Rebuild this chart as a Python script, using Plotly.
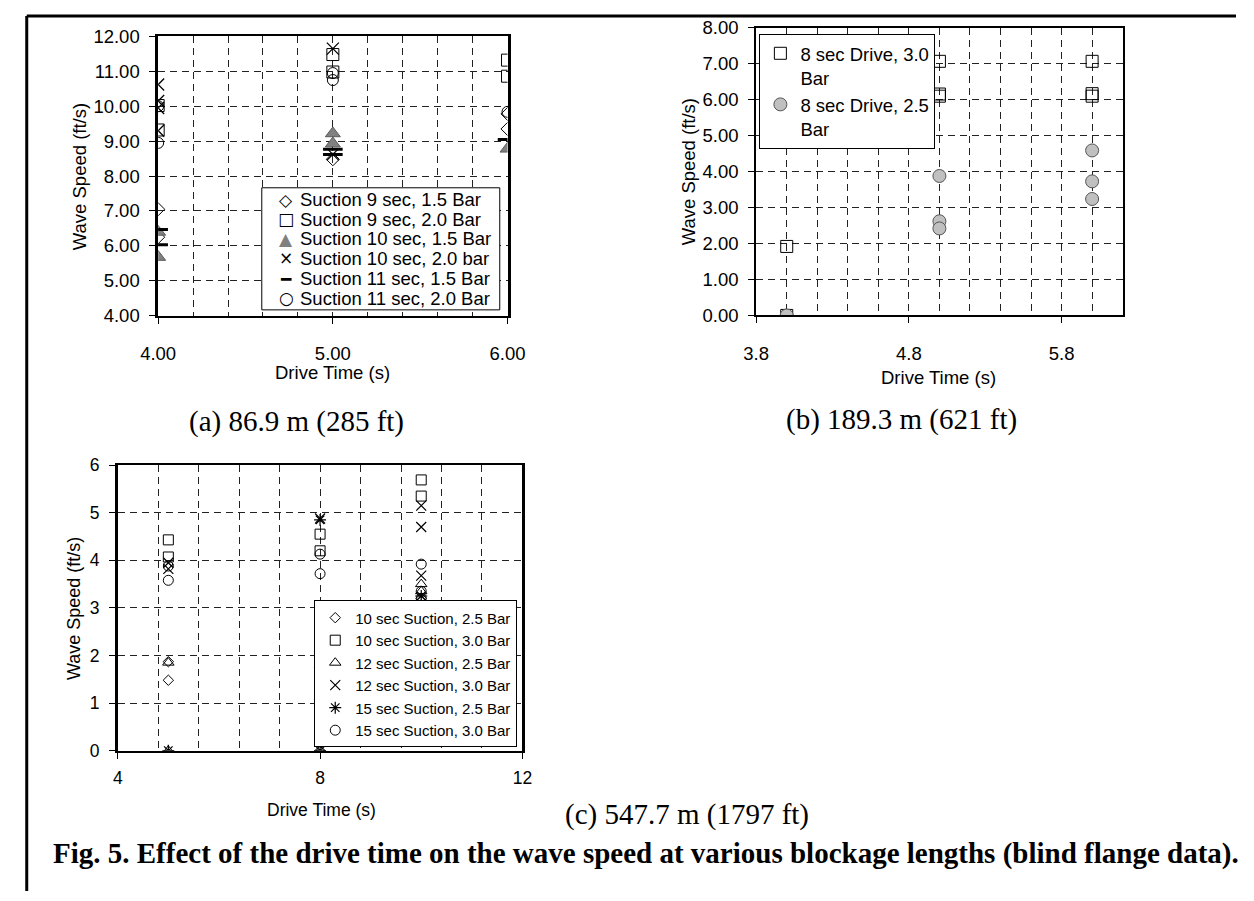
import plotly.graph_objects as go

W, H = 1254, 901

# ---------------- Panel (a): 86.9 m ----------------
a_names = ["Suction 9 sec, 1.5 Bar", "Suction 9 sec, 2.0 Bar", "Suction 10 sec, 1.5 Bar",
           "Suction 10 sec, 2.0 bar", "Suction 11 sec, 1.5 Bar", "Suction 11 sec, 2.0 Bar"]
a_x_s1 = [4, 4, 5, 6, 6]
a_y_s1 = [7.05, 6.25, 8.48, 9.35, 9.78]
a_x_s2 = [4, 4, 5, 5, 6, 6]
a_y_s2 = [10.02, 9.32, 11.48, 10.98, 11.32, 10.86]
a_x_s3 = [4, 4, 5, 5, 6]
a_y_s3 = [6.40, 5.68, 9.22, 8.93, 8.78]
a_x_s4 = [4, 4, 4, 4, 5, 5]
a_y_s4 = [10.62, 10.15, 9.95, 9.30, 11.65, 8.62]
a_x_s5 = [4, 4, 5, 5, 6]
a_y_s5 = [6.47, 6.03, 8.77, 8.62, 9.05]
a_x_s6 = [4, 4, 5, 5, 6]
a_y_s6 = [8.95, 10.00, 10.95, 10.75, 9.84]

# ---------------- Panel (b): 189.3 m ----------------
b_names = ["8 sec Drive, 3.0<br>Bar", "8 sec Drive, 2.5<br>Bar"]
b_x_s1 = [4, 4, 5, 5, 5, 6, 6, 6]
b_y_s1 = [1.92, 0.0, 7.07, 6.16, 6.10, 7.07, 6.17, 6.10]
b_x_s2 = [4, 5, 5, 5, 6, 6, 6]
b_y_s2 = [0.0, 3.88, 2.62, 2.42, 4.59, 3.73, 3.24]

# ---------------- Panel (c): 547.7 m ----------------
c_names = ["10 sec Suction, 2.5 Bar", "10 sec Suction, 3.0 Bar", "12 sec Suction, 2.5 Bar",
           "12 sec Suction, 3.0 Bar", "15 sec Suction, 2.5 Bar", "15 sec Suction, 3.0 Bar"]
c_x_s1 = [5, 5, 8, 8, 10, 10]
c_y_s1 = [1.87, 1.48, 2.00, 0.0, 3.20, 3.15]
c_x_s2 = [5, 5, 8, 8, 10, 10]
c_y_s2 = [4.43, 4.07, 4.55, 4.20, 5.69, 5.35]
c_x_s3 = [5, 5, 8, 8, 10, 10]
c_y_s3 = [1.85, 0.0, 1.80, 0.0, 3.50, 3.35]
c_x_s4 = [5, 5, 8, 10, 10, 10, 10]
c_y_s4 = [3.95, 3.82, 4.88, 5.15, 4.70, 3.68, 3.00]
c_x_s5 = [5, 8, 8, 10, 10]
c_y_s5 = [0.0, 0.0, 4.85, 3.25, 3.05]
c_x_s6 = [5, 5, 8, 8, 10, 10, 10]
c_y_s6 = [3.58, 3.88, 4.13, 3.72, 3.92, 3.35, 3.20]

captions = ["(a) 86.9 m (285 ft)", "(b) 189.3 m (621 ft)", "(c) 547.7 m (1797 ft)"]
fig_caption = "Fig. 5. Effect of the drive time on the wave speed at various blockage lengths (blind flange data)."
x_title = "Drive Time (s)"
y_title = "Wave Speed (ft/s)"

SANS = "Liberation Sans, Arial, sans-serif"
SERIF = "Liberation Serif, Times New Roman, serif"
DASH = "7px,5px"


def fx(px):
    return px / W


def fy(py):
    return 1 - py / H


fig = go.Figure()


def mk(symbol, size, color="black", lw=1, lc="black"):
    return dict(symbol=symbol, size=size, color=color, line=dict(width=lw, color=lc))


# Panel (a) traces
a_series = [
    (a_x_s1, a_y_s1, mk("diamond-open", 10)),
    (a_x_s2, a_y_s2, mk("square-open", 12)),
    (a_x_s3, a_y_s3, mk("triangle-up", 13, color="#808080", lc="#5a5a5a")),
    (a_x_s4, a_y_s4, mk("x-thin-open", 12, lw=1.3)),
    (a_x_s5, a_y_s5, mk("line-ew-open", 14, lw=3)),
    (a_x_s6, a_y_s6, mk("circle-open", 11)),
]
for (xs, ys, m), nm in zip(a_series, a_names):
    fig.add_trace(go.Scatter(x=xs, y=ys, mode="markers", marker=m, name=nm,
                             xaxis="x", yaxis="y", showlegend=False))

# Panel (b) traces
fig.add_trace(go.Scatter(x=b_x_s1, y=b_y_s1, mode="markers", name=b_names[0],
                         marker=mk("square-open", 12), xaxis="x2", yaxis="y2", legend="legend"))
fig.add_trace(go.Scatter(x=b_x_s2, y=b_y_s2, mode="markers", name=b_names[1],
                         marker=mk("circle", 13, color="#c0c0c0", lc="#555555"),
                         xaxis="x2", yaxis="y2", legend="legend"))

# Panel (c) traces
c_series = [
    (c_x_s1, c_y_s1, mk("diamond-open", 8)),
    (c_x_s2, c_y_s2, mk("square-open", 10)),
    (c_x_s3, c_y_s3, mk("triangle-up-open", 10)),
    (c_x_s4, c_y_s4, mk("x-thin-open", 10, lw=1.2)),
    (c_x_s5, c_y_s5, mk("asterisk-open", 10, lw=1.2)),
    (c_x_s6, c_y_s6, mk("circle-open", 10)),
]
for (xs, ys, m), nm in zip(c_series, c_names):
    fig.add_trace(go.Scatter(x=xs, y=ys, mode="markers", marker=m, name=nm,
                             xaxis="x3", yaxis="y3", legend="legend2"))


def axis(domain, anchor, rng, dtick, tick0, fmt, minor_dtick=None, lw=2, fs=18.5, standoff=4):
    d = dict(domain=domain, anchor=anchor, range=rng, dtick=dtick, tick0=tick0,
             tickformat=fmt, showgrid=True, gridcolor="#222222", gridwidth=1, griddash=DASH,
             showline=True, linecolor="black", linewidth=lw, mirror=True,
             ticks="outside", ticklen=6, tickcolor="black", tickwidth=1,
             tickfont=dict(family=SANS, size=fs, color="black"), zeroline=False,
             ticklabelstandoff=standoff, fixedrange=True)
    if minor_dtick is not None:
        d["minor"] = dict(dtick=minor_dtick, tick0=tick0, showgrid=True, gridcolor="#222222",
                          gridwidth=1, griddash=DASH, ticks="")
    return d


layout = dict(
    width=W, height=H, margin=dict(l=0, r=0, t=0, b=0),
    paper_bgcolor="white", plot_bgcolor="white",
    xaxis=axis([fx(144.3), fx(504)], "y", [4, 6], 1, 4, ".2f", 0.2, standoff=14),
    yaxis=axis([fy(312), fy(26)], "x", [4, 12], 1, 4, ".2f", lw=2.5, standoff=6),
    xaxis2=axis([fx(760), fx(1137.3)], "y2", [3.8, 6.2], 1, 3.8, ".1f", 0.2, standoff=14),
    yaxis2=axis([fy(311.7), fy(17.3)], "x2", [0, 8], 1, 0, ".2f", standoff=6),
    xaxis3=axis([fx(102.7), fx(519.3)], "y3", [4, 12], 4, 4, "d", 0.8, fs=17.5, standoff=4),
    yaxis3=axis([fy(757.3), fy(465)], "x3", [0, 6], 1, 0, "d", lw=2.5, fs=17.5, standoff=6),
    legend=dict(x=fx(763.3), y=fy(23.3), xanchor="left", yanchor="top",
                bgcolor="white", bordercolor="black", borderwidth=1,
                font=dict(family=SANS, size=18.5, color="black"), valign="top",
                itemwidth=30, tracegroupgap=0, itemclick=False),
    legend2=dict(x=fx(514), y=fy(754), xanchor="right", yanchor="bottom",
                 bgcolor="white", bordercolor="black", borderwidth=1,
                 font=dict(family=SANS, size=15, color="black"),
                 itemwidth=30, tracegroupgap=0, itemclick=False),
    showlegend=True,
)
fig.update_layout(**layout)

ann = []


def text(px, py, s, size, family=SANS, xanchor="center", angle=0, color="black"):
    ann.append(dict(x=fx(px), y=fy(py), xref="paper", yref="paper", text=s, showarrow=False,
                    xanchor=xanchor, yanchor="middle", textangle=angle,
                    font=dict(family=family, size=size, color=color)))


# axis titles
text(63, 170, y_title, 18.5, angle=-90)
text(324, 370, x_title, 18.5)
text(690, 165, y_title, 18.5, angle=-90)
text(948, 375, x_title, 18.5)
text(57, 612, y_title, 18, angle=-90)
text(312, 818, x_title, 17.5)

# panel captions
text(286.7, 420, captions[0], 29, family=SERIF)
text(910, 418, captions[1], 29, family=SERIF)
text(689, 823, captions[2], 29, family=SERIF)
text(34, 863, "<b>" + fig_caption + "</b>", 29, family=SERIF, xanchor="left")

# legend of panel (a) drawn as text rows (compact Excel-style spacing)
a_symbols = ["\u25C7", "\u25A1", "\u25B2", "\u00D7", "\u2501", "\u25CB"]
a_symbol_colors = ["black", "black", "#808080", "black", "black", "black"]
row_y = [193.3, 213.3, 233.3, 253.3, 274, 294]
for sym, col, nm, yy in zip(a_symbols, a_symbol_colors, a_names, row_y):
    text(276, yy, sym, 17, family="DejaVu Sans", color=col)
    text(288, yy, nm, 18.5, xanchor="left")

fig.update_layout(annotations=ann)

shapes = [
    # legend box of panel (a)
    dict(type="rect", xref="paper", yref="paper", x0=fx(251), x1=fx(496), y0=fy(306), y1=fy(181),
         line=dict(color="black", width=1), fillcolor="white", layer="above"),
    # outer frame (top and left edges)
    dict(type="line", xref="paper", yref="paper", x0=fx(9), x1=1, y0=fy(5), y1=fy(5),
         line=dict(color="black", width=3)),
    dict(type="line", xref="paper", yref="paper", x0=fx(9), x1=fx(9), y0=0, y1=fy(5),
         line=dict(color="black", width=3)),
]
fig.update_layout(shapes=shapes)

fig.write_html("out.html")
